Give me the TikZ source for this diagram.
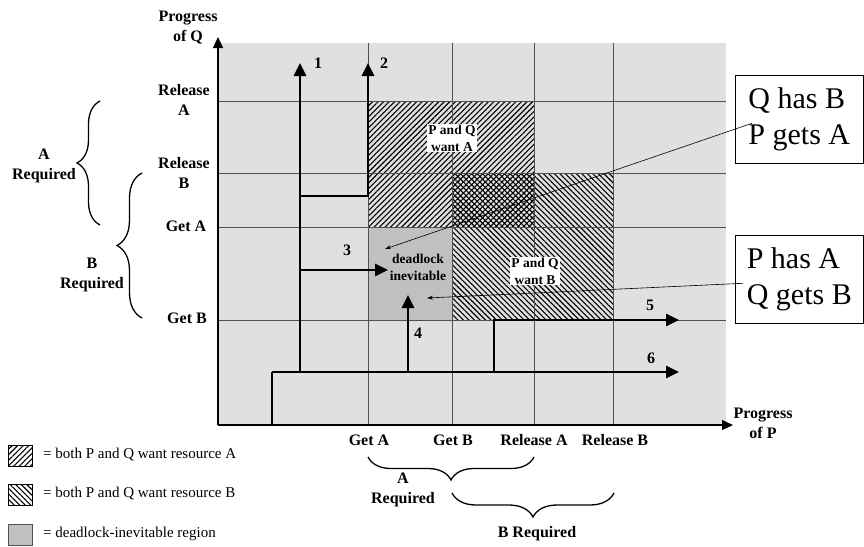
\documentclass[tikz,border=0pt]{standalone}
\usepackage{fontspec}
\setmainfont{Liberation Serif}
\usetikzlibrary{arrows.meta,positioning,patterns.meta,decorations.pathreplacing,calc}
\definecolor{chartgray}{RGB}{224,224,224}
\definecolor{deadgray}{RGB}{192,192,192}
\definecolor{gridgray}{RGB}{80,80,80}

\begin{document}
\begin{tikzpicture}[x=1pt, y=-1pt,
        lbl/.style={font=\fontsize{16}{20}\selectfont\bfseries, align=center, inner sep=0pt},
        reglbl/.style={font=\fontsize{13.5}{17}\selectfont\bfseries, align=center, inner sep=1pt},
        callout/.style={draw, line width=0.6pt, font=\fontsize{30}{36}\selectfont, align=left, anchor=north west, minimum width=128pt, minimum height=88pt},
        hatchA/.style={pattern={Lines[angle=45, distance=3.9pt, line width=1.1pt]}},
        hatchB/.style={pattern={Lines[angle=-45, distance=3.9pt, line width=1.1pt]}},
        gridline/.style={gridgray, line width=0.8pt},
        prog/.style={line width=2.6pt, -{Triangle[length=13pt, width=12pt]}},
        pointer/.style={line width=0.6pt, -{Stealth[length=6pt, width=4pt]}},
        brc/.style={decorate, decoration={brace, amplitude=#1}, line width=1.3pt},
        legtxt/.style={font=\fontsize{15}{17}\selectfont, anchor=west, inner sep=0pt}
    ]
    \useasboundingbox (0,0) rectangle (864,546);
    % chart area and regions
    \fill[chartgray] (218,43) rectangle (726,425);
    \fill[deadgray] (368,227) rectangle (452,320);
    \path[hatchA] (368,101) rectangle (534,227);
    \path[hatchB] (452,173) rectangle (613,320);
    \foreach \gx in {368,452,534,613}
        \draw[gridline] (\gx,43) -- (\gx,425);
    \foreach \gy in {101,173,227,320}
        \draw[gridline] (218,\gy) -- (726,\gy);
    % axes
    \draw[line width=1.2pt, -{Triangle[length=11pt, width=10pt]}] (218,425) -- (218,37);
    \draw[line width=1.2pt, -{Triangle[length=11pt, width=10pt]}] (218,425) -- (733,425);
    \node[lbl] (yaxis) at (188,28) {Progress\\of Q};
    \node[lbl] (xaxis) at (763,423) {Progress\\of P};
    % execution paths
    \draw[line width=2.6pt] (218,425) -- (272,425) -- (272,372);
    \draw[prog] (272,372) -- (679,372);
    \draw[prog] (300,372) -- (300,63);
    \draw[prog] (300,196) -- (368,196) -- (368,63);
    \draw[prog] (300,270) -- (388,270);
    \draw[prog] (408,372) -- (408,295);
    \draw[prog] (494,372) -- (494,320) -- (679,320);
    \node[lbl] (p1) at (318,63) {1};
    \node[lbl] (p2) at (384,63) {2};
    \node[lbl] (p3) at (347,250) {3};
    \node[lbl] (p4) at (418,333) {4};
    \node[lbl] (p5) at (650,305) {5};
    \node[lbl] (p6) at (651,358) {6};
    % region labels
    \node[reglbl, fill=white] (wantA) at (452,138) {P and Q\\want A};
    \node[reglbl, fill=white] (wantB) at (535,271) {P and Q\\want B};
    \node[reglbl] (dead) at (418,267) {deadlock\\inevitable};
    % ticks of Q
    \node[lbl] (relAq) at (184,100) {Release\\A};
    \node[lbl] (relBq) at (184,173) {Release\\B};
    \node[lbl] (getAq) at (186,226) {Get A};
    \node[lbl] (getBq) at (187,318) {Get B};
    \draw[brc=23pt] (100,225) -- (100,101);
    \draw[brc=25pt] (142,318) -- (142,173);
    \node[lbl] (reqAq) at (44,166) {A\\Required};
    \node[lbl] (reqBq) at (92,275) {B\\Required};
    % ticks of P
    \node[lbl] (getAp) at (369,440) {Get A};
    \node[lbl] (getBp) at (453,440) {Get B};
    \node[lbl] (relAp) at (534,440) {Release A};
    \node[lbl] (relBp) at (615,440) {Release B};
    \draw[brc=23pt] (534,457) -- (368,457);
    \draw[brc=24pt] (614,493) -- (452,493);
    \node[lbl] (reqAp) at (403,490) {A\\Required};
    \node[lbl] (reqBp) at (537,534) {B Required};
    % callouts
    \coordinate (deadtop) at (385,249);
    \coordinate (deadlow) at (427,298);
    \node[callout] (qhasb) at (735,75) {Q has B\\P gets A};
    \node[callout] (phasa) at (735,235) {P has A\\Q gets B};
    \draw[pointer] ($(qhasb.west)+(17,4)$) -- (deadtop);
    \draw[pointer] ($(phasa.west)+(8,4)$) -- (deadlow);
    % legend
    \draw[hatchA, line width=0.8pt] (8,445) rectangle (32,466);
    \draw[hatchB, line width=0.8pt] (8,484) rectangle (32,505);
    \draw[fill=deadgray, draw=gridgray, line width=0.8pt] (8,524) rectangle (32,545);
    \node[legtxt] (legA) at (43,455) {= both P and Q want resource A};
    \node[legtxt] (legB) at (43,494) {= both P and Q want resource B};
    \node[legtxt] (legD) at (43,534) {= deadlock-inevitable region};
\end{tikzpicture}
\end{document}
